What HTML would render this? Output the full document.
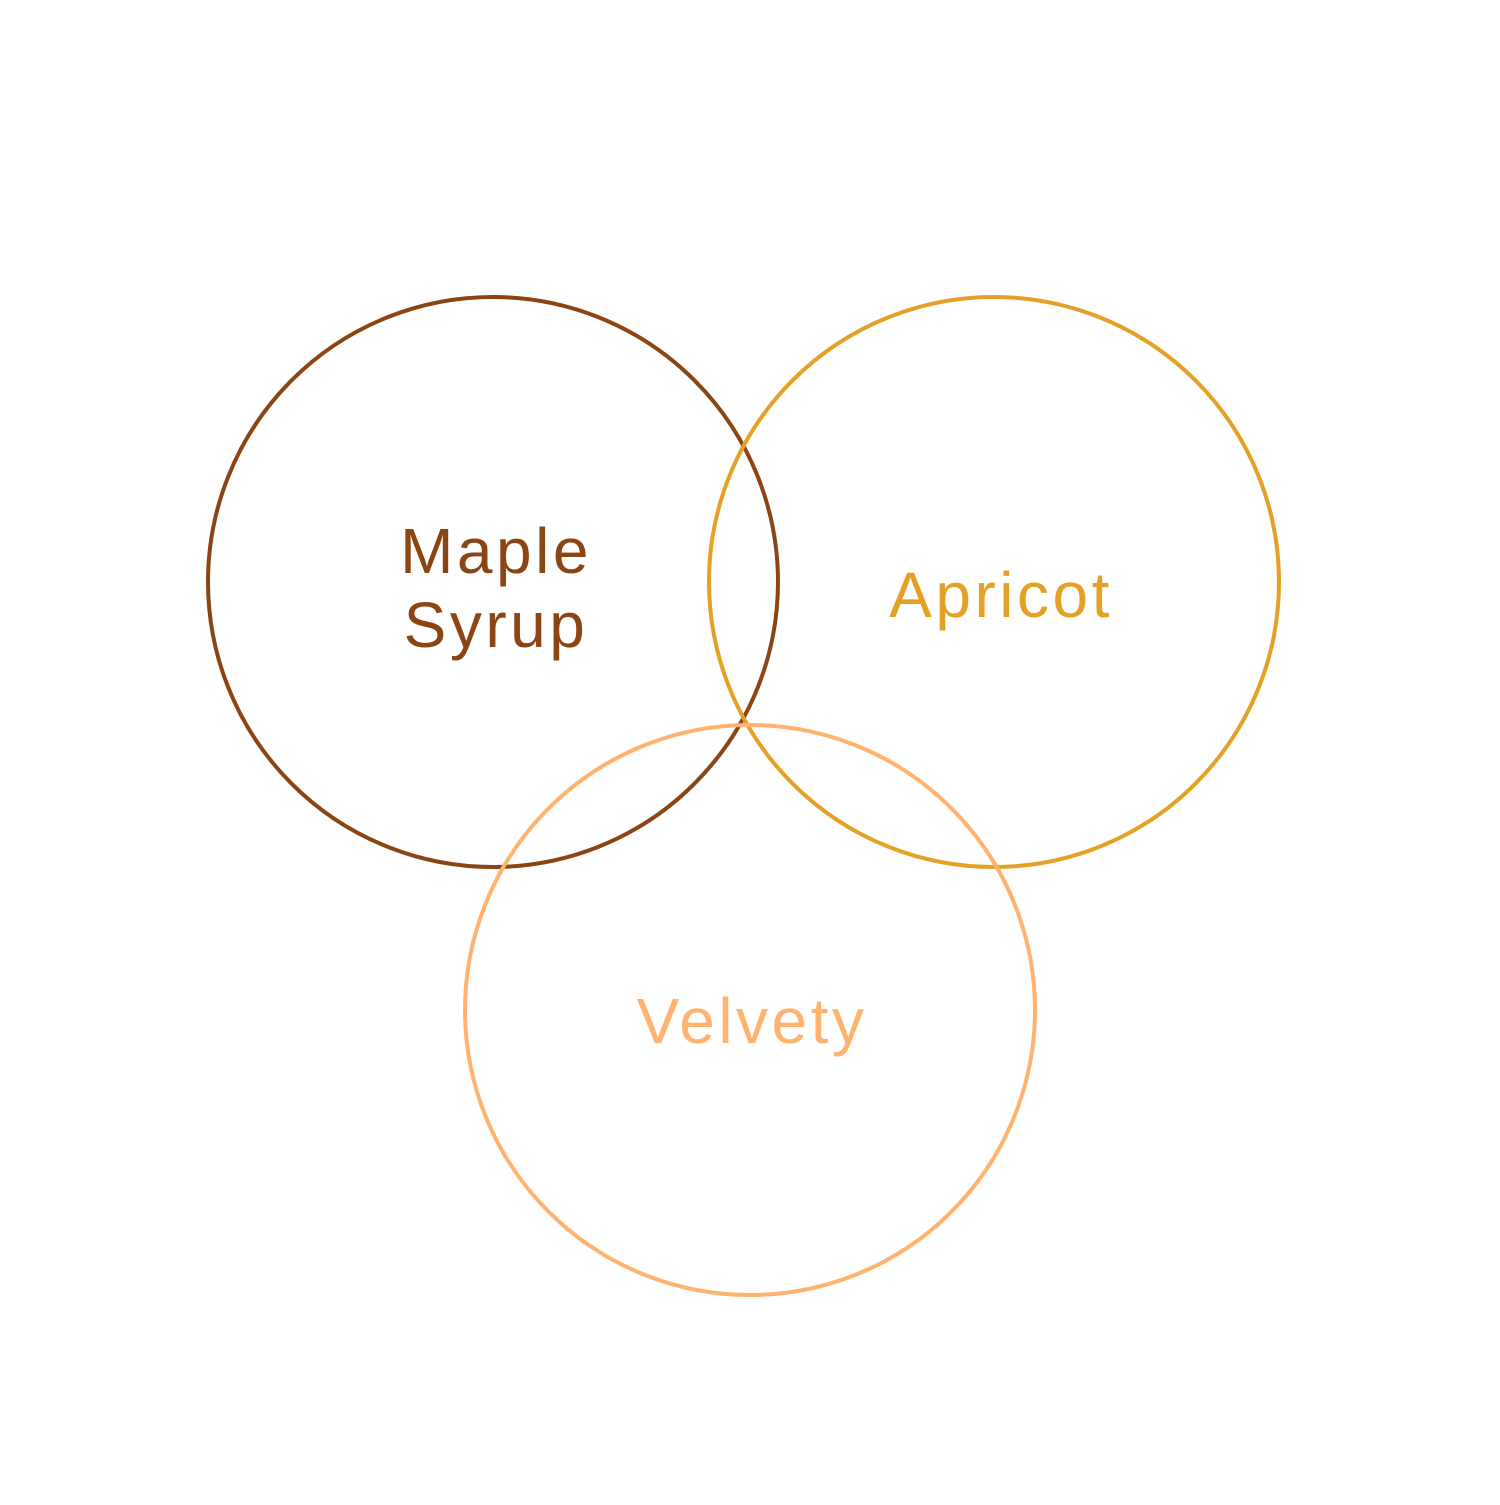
<!DOCTYPE html>
<html><head><meta charset="utf-8"><style>html,body{margin:0;padding:0;background:#fff}</style></head>
<body>
<svg width="1500" height="1500" viewBox="0 0 1500 1500" xmlns="http://www.w3.org/2000/svg">
<rect width="1500" height="1500" fill="#fff"/>
<g fill="none" stroke-width="4">
<circle cx="493" cy="582" r="285" stroke="#8B4513"/>
<circle cx="994" cy="582" r="285" stroke="#E5A125"/>
<circle cx="750" cy="1010" r="285" stroke="#FFB36E"/>
</g>
<g font-family="Liberation Sans, sans-serif" font-size="64" text-anchor="middle" letter-spacing="3.5">
<text x="496" y="573" fill="#8B4513">Maple</text>
<text x="496" y="647" fill="#8B4513">Syrup</text>
<text x="1001" y="617" fill="#E5A125">Apricot</text>
<text x="752" y="1043" fill="#FFB36E">Velvety</text>
</g>
</svg>
</body></html>
